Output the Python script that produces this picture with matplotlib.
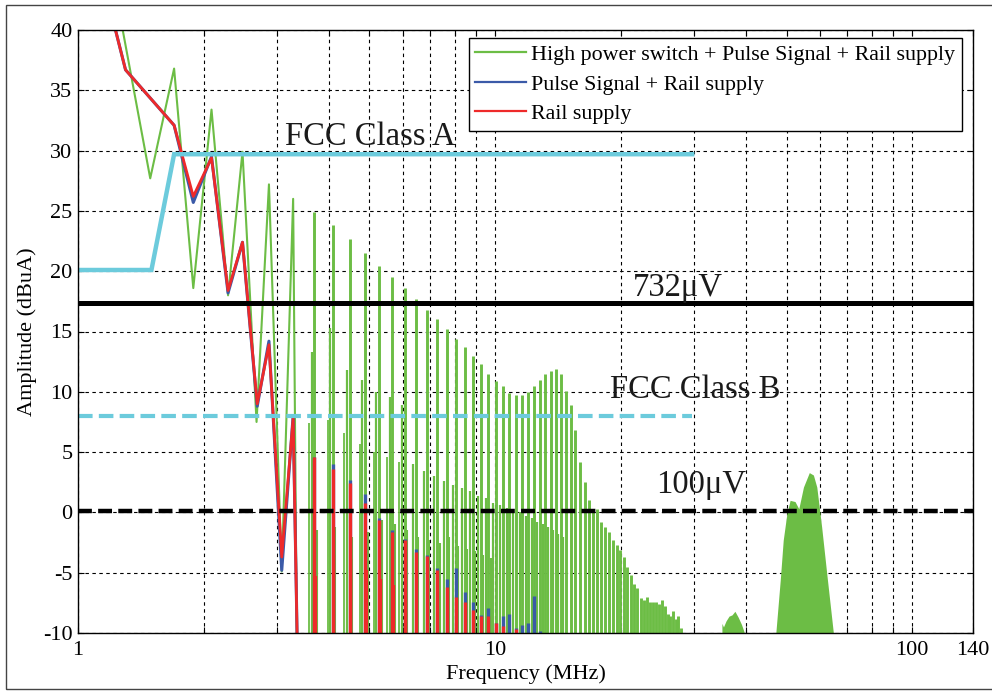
import matplotlib
matplotlib.use("Agg")
import matplotlib.pyplot as plt
import numpy as np
from matplotlib.lines import Line2D
from matplotlib.patches import Rectangle
from matplotlib.ticker import FixedLocator, NullFormatter

plt.rcParams['font.family'] = ['Liberation Serif', 'DejaVu Serif']
plt.rcParams['lines.scale_dashes'] = False
plt.rcParams['axes.unicode_minus'] = False

# low-frequency part, where the traces zigzag between samples (MHz, dBuA)
green_zig_f = [1.28, 1.49, 1.70, 1.89, 2.09, 2.29, 2.48, 2.68, 2.87, 3.08, 3.28, 3.35]
green_zig_a = [40.0, 27.7, 36.8, 18.6, 33.4, 18.0, 29.9, 7.5, 27.2, -4.9, 26.0, -12.0]
rail_zig_f = [1.23, 1.30, 1.70, 1.89, 2.09, 2.29, 2.48, 2.69, 2.87, 3.08, 3.28, 3.36]
red_zig_a = [40.0, 36.7, 32.1, 26.2, 29.4, 18.4, 22.4, 9.0, 13.9, -3.7, 7.8, -12.0]
blue_zig_a = [40.0, 36.7, 32.1, 25.7, 29.5, 18.2, 22.4, 8.8, 14.2, -4.8, 8.0, -12.0]

# harmonic lines above 3.5 MHz
harm_f = [3.69, 4.08, 4.48, 4.88, 5.27, 5.67, 6.07, 6.46, 6.86, 7.26, 7.66, 8.05, 8.45,
          8.85, 9.24, 9.64, 10.04, 10.43, 10.83, 11.23, 11.63, 12.02, 12.42, 12.82, 13.21,
          13.61, 14.01, 14.40, 14.80, 15.20, 15.59, 15.99, 16.39, 16.79, 17.18, 17.58,
          17.98, 18.37, 18.77, 19.17, 19.57, 19.96, 20.36, 20.76, 21.15, 21.55, 21.95,
          22.34, 22.74, 23.14, 23.53, 23.93, 24.33, 24.73, 25.12, 25.52, 25.92, 26.31,
          26.71, 27.11, 27.50, 27.90]
green_peak = [24.9, 23.8, 22.7, 21.5, 20.4, 19.5, 18.6, 17.7, 16.8, 16.0, 15.2, 14.4, 13.7,
              13.0, 12.3, 11.5, 10.9, 10.5, 9.9, 9.7, 9.7, 10.0, 10.5, 11.0, 11.5,
              11.7, 11.9, 11.5, 10.1, 8.9, 6.8, 4.2, 2.5, 1.0, 0.3, 0.3,
              -0.8, -1.2, -1.6, -2.3, -2.7, -3.1, -3.7, -4.5, -5.2, -5.9, -6.3,
              -7.1, -7.3, -7.0, -7.4, -7.4, -7.4, -7.6, -7.3, -7.8, -8.4, -8.6,
              -8.2, -8.8, -8.6, -9.6]
green_sh1 = [13.3, 15.3, 11.8, 11.0, 10.0, 9.6, 8.9, 4.0, 3.4, 3.0, 2.6, 2.3, 2.0, 1.8,
             1.4, 1.2, 0.8, 0.6, 0.4, 0.2, 0.0, -0.3, -0.5, -0.8, -1.0, -1.2, -1.5, -1.8, -2.0]
green_sh2 = [7.4, 7.7, 6.6, 5.7, 5.0, 4.6, 4.2]
green_tail = [-1.5, -1.2, -2.0, -1.6, -0.6, -1.0, -1.5, -2.0, -2.3, -2.5, -2.0, -2.8,
              -3.0, -3.2, -3.5, -3.8]
blue_peak = [4.6, 4.0, 2.7, 1.5, -0.5, -1.5, -2.2, -3.0, -3.5, -4.6, -5.5, -4.6, -6.6,
             -7.4, -8.5, -7.9, -9.2, -8.6, -8.4, -9.6, -9.3, -9.2, -6.9, -9.8]
red_peak = [4.6, 3.6, 2.4, 0.8, -0.6, -1.6, -2.3, -3.3, -3.6, -4.8, -6.2, -7.0, -7.4,
            -8.1, -8.6, -8.6, -9.2, -9.4, -10.5, -9.7]
red_tail = [-5.3, -3.5, -3.9, -4.8, -5.5, -6.0, -7.0]

# dense bursts of the switch above 30 MHz
hump1_f = [35.0, 35.3, 35.8, 36.4, 37.0, 37.6, 38.3, 39.0, 40.1]
hump1_a = [-9.2, -9.5, -9.0, -8.6, -8.5, -8.2, -8.7, -9.3, -10.5]
hump2_f = [47.0, 48.3, 49.1, 50.1, 51.0, 52.4, 53.5, 54.9, 56.7, 58.0, 59.1, 60.7, 62.4, 65.0]
hump2_a = [-10.5, -5.6, -2.3, -0.1, 1.0, 0.9, 0.3, 2.1, 3.3, 3.1, 2.1, -1.2, -5.0, -10.5]

# limits
fccA_f = [1.0, 1.50, 1.70, 29.7]
fccA_a = [20.1, 20.1, 29.7, 29.7]
fccB_f = [1.0, 29.7]
fccB_a = [8.0, 8.0]
lim_732 = 17.4
lim_100 = 0.1

GREEN = '#6cbd45'
BLUE = '#3b5aa8'
RED = '#ee2a2a'
CYAN = '#6ccbdc'
floor = -12

fig = plt.figure(figsize=(9.92, 6.92), dpi=100)
ax = fig.add_axes([78/992, 59/692, 895/992, 603/692])
ax.set_xscale('log')
ax.set_axisbelow(True)

hf = np.array(harm_f)
# green
ax.plot(green_zig_f, green_zig_a, color=GREEN, lw=1.5)
ax.vlines(hf, floor, green_peak, color=GREEN, lw=2.1)
ax.vlines(hf[:len(green_sh1)] * 0.985, floor, green_sh1, color=GREEN, lw=1.6)
ax.vlines(hf[:len(green_sh2)] * 0.972, floor, green_sh2, color=GREEN, lw=1.3)
ax.vlines(hf[:len(green_tail)] * 1.014, floor, green_tail, color=GREEN, lw=1.5)
ax.fill_between(hump1_f, floor, hump1_a, color=GREEN, lw=0)
ax.fill_between(hump2_f, floor, hump2_a, color=GREEN, lw=0)
# blue under red
ax.plot(rail_zig_f, blue_zig_a, color=BLUE, lw=2.2)
ax.vlines(hf[:len(blue_peak)], floor, blue_peak, color=BLUE, lw=2.4)
ax.plot(rail_zig_f, red_zig_a, color=RED, lw=2.0)
ax.vlines(hf[:len(red_peak)], floor, red_peak, color=RED, lw=2.4)
ax.vlines(hf[:len(red_tail)] * 1.01, floor, red_tail, color=RED, lw=1.6)

# limit lines
ax.plot(fccA_f, fccA_a, color=CYAN, lw=3.2, solid_joinstyle='miter')
ax.plot(fccB_f, fccB_a, color=CYAN, lw=3.0, ls=(0, (10.5, 4.5)))
ax.axhline(lim_732, color='black', lw=3.6)
ax.axhline(lim_100, color='black', lw=3.2, ls=(0, (10, 4.5)))

tfont = dict(fontsize=23.5, ha='center', va='baseline', color='#1a1a1a')
ax.text(5.01, 30.46, 'FCC Class A', **tfont)
ax.text(27.5, 17.95, '732μV', **tfont)
ax.text(30.2, 9.46, 'FCC Class B', **tfont)
ax.text(31.2, 1.58, '100μV', **tfont)

ax.set_xlim(1, 140)
ax.set_ylim(-10, 40)
ax.set_xticks([1, 10, 100, 140])
ax.set_xticklabels(['1', '10', '100', '140'])
ax.xaxis.set_minor_locator(FixedLocator([2, 3, 4, 5, 6, 7, 8, 9, 20, 30, 40, 50, 60, 70, 80, 90]))
ax.xaxis.set_minor_formatter(NullFormatter())
ax.set_yticks(np.arange(-10, 41, 5))
ax.tick_params(which='both', direction='in', top=True, right=True, length=4, width=0.8,
               labelsize=16)
ax.tick_params(axis='x', pad=6)
ax.tick_params(axis='y', pad=4)
ax.grid(True, which='both', axis='x', color='black', lw=0.8, ls=(0, (2.5, 2.5)))
ax.grid(True, which='major', axis='y', color='black', lw=0.8, ls=(0, (2.5, 2.5)))
for s in ax.spines.values():
    s.set_linewidth(1.0)

ax.set_xlabel('Frequency (MHz)', fontsize=16, labelpad=3)
ax.set_ylabel('Amplitude (dBuA)', fontsize=16, labelpad=4)

handles = [Line2D([], [], color=GREEN, lw=1.6),
           Line2D([], [], color=BLUE, lw=1.6),
           Line2D([], [], color=RED, lw=1.6)]
labels = ['High power switch + Pulse Signal + Rail supply',
          'Pulse Signal + Rail supply',
          'Rail supply']
leg = ax.legend(handles, labels, loc='upper right', bbox_to_anchor=(0.9877, 0.9867),
                borderaxespad=0, fontsize=15.8, handlelength=2.3, handletextpad=0.25,
                labelspacing=0.42, borderpad=0.3, fancybox=False, framealpha=1,
                edgecolor='black')
leg.get_frame().set_linewidth(1.0)

fig.add_artist(Rectangle((6/992, 3/692), 1.0, 684/692, transform=fig.transFigure,
                         fill=False, ec='#444444', lw=1.0))

fig.savefig('out.png', dpi=100)
